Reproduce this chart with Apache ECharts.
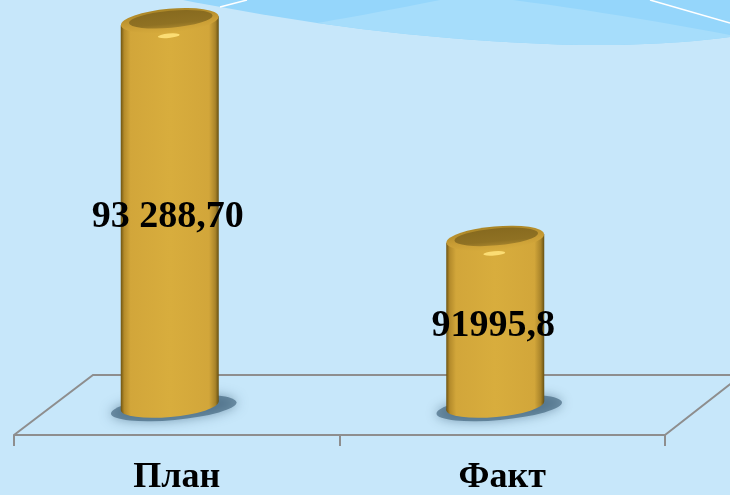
<!DOCTYPE html>
<html>
<head>
<meta charset="utf-8">
<script src="https://cdn.jsdelivr.net/npm/echarts@6/dist/echarts.min.js"></script>
<style>
html,body{margin:0;padding:0;background:#C7E7FA;}
#chart{width:730px;height:495px;}
</style>
</head>
<body>
<div id="chart"></div>
<script>
const categories = ['План', 'Факт'];
const values = [93288.7, 91995.8];
const valueLabels = ['93 288,70', '91995,8'];
const axisMin = 91000;
const axisMax = 93400;

const chart = echarts.init(document.getElementById('chart'), null, {renderer: 'canvas'});

const SERIF = "'Liberation Serif', 'Times New Roman', serif";

const bodyGrad = () => new echarts.graphic.LinearGradient(0, 0, 1, 0, [
  {offset: 0, color: '#6e5412'},
  {offset: 0.035, color: '#b48b2b'},
  {offset: 0.1, color: '#d2a63a'},
  {offset: 0.5, color: '#d8ad3d'},
  {offset: 0.9, color: '#d2a63a'},
  {offset: 0.965, color: '#a9842a'},
  {offset: 1, color: '#665012'}
]);

// ellipse built from a circle scaled vertically, inside a rotated group
function ellipse(x, y, rx, ry, rot, style) {
  return {
    type: 'group', x: x, y: y, rotation: rot,
    children: [{
      type: 'circle',
      shape: {cx: 0, cy: 0, r: rx},
      scaleY: ry / rx,
      style: style
    }]
  };
}

function renderItem(params, api) {
  const idx = api.value(0);
  const top = api.coord([idx, api.value(1)]);
  const base = api.coord([idx, axisMin]);
  const cx = top[0] - 7;
  const ty = top[1];
  const by = base[1];
  const rx = 49;
  const tilt = 0.09;
  const d = rx * Math.sin(tilt);
  const label = valueLabels[params.dataIndex];
  return {
    type: 'group',
    children: [
      ellipse(cx + 4, by + 2, 63, 12, tilt,
        {fill: 'rgba(55,90,115,0.6)', shadowBlur: 12, shadowColor: 'rgba(50,85,110,0.85)'}),
      ellipse(cx, by, rx, 11, tilt, {fill: bodyGrad()}),
      {
        type: 'polygon',
        shape: {points: [[cx - rx, ty + d], [cx + rx, ty - d], [cx + rx, by - d], [cx - rx, by + d]]},
        style: {fill: bodyGrad()}
      },
      ellipse(cx, ty, rx, 12, tilt, {fill: new echarts.graphic.LinearGradient(0, 0, 0, 1, [
        {offset: 0, color: '#a98526'},
        {offset: 0.6, color: '#c99d35'},
        {offset: 1, color: '#d6ab3c'}
      ])}),
      ellipse(cx + 1, ty - 1.5, 42, 8.5, tilt, {fill: new echarts.graphic.LinearGradient(0, 0, 0, 1, [
        {offset: 0, color: '#876a1f'},
        {offset: 0.75, color: '#8f7123'},
        {offset: 1, color: '#a4822b'}
      ])}),
      ellipse(cx - 1, ty + 15, 11, 2.2, tilt, {fill: '#ffe27a', opacity: 0.9}),
      {
        type: 'text',
        x: cx - 2,
        y: (ty + by) / 2 + 4,
        style: {
          text: label,
          fill: '#000',
          font: 'bold 38px ' + SERIF,
          textAlign: 'center',
          textVerticalAlign: 'middle'
        }
      }
    ]
  };
}

// sample a chain of quadratic curves into polygon points (background decoration)
function quadChain(start, segs) {
  const pts = [start];
  let p0 = start;
  segs.forEach(function (s) {
    const c = s[0], p1 = s[1];
    for (let t = 1; t <= 12; t++) {
      const u = t / 12;
      pts.push([
        (1 - u) * (1 - u) * p0[0] + 2 * (1 - u) * u * c[0] + u * u * p1[0],
        (1 - u) * (1 - u) * p0[1] + 2 * (1 - u) * u * c[1] + u * u * p1[1]
      ]);
    }
    p0 = p1;
  });
  return pts;
}

const lowerCurve = quadChain([183, 0], [[[250, 13], [317, 23]], [[450, 42], [580, 45]], [[660, 46], [730, 37]]]);
const wavePts = lowerCurve.concat([[730, 0]]);
const lowerFrom317 = quadChain([317, 23], [[[450, 42], [580, 45]], [[660, 46], [730, 37]]]);
const wedgeTop = quadChain([317, 23], [[[370, 14], [440, 0]]]).concat([[513, 0]])
  .concat(quadChain([513, 0], [[[620, 14], [730, 35]]]).slice(1));
const wedgePts = wedgeTop.concat(lowerFrom317.slice().reverse());

const floorColor = '#8e8e8e';

chart.setOption({
  backgroundColor: '#C7E7FA',
  animation: false,
  grid: {left: 14, right: 65, top: 2, bottom: 89, containLabel: false, outerBoundsMode: 'none'},
  xAxis: {
    type: 'category',
    data: categories,
    offset: 29,
    axisLine: {show: true, lineStyle: {color: floorColor, width: 2}},
    axisTick: {show: true, interval: 0, alignWithLabel: false, inside: false, length: 11, lineStyle: {color: floorColor, width: 2}},
    axisLabel: {
      color: '#000', fontFamily: SERIF, fontWeight: 'bold', fontSize: 36, margin: 25
    },
    splitLine: {show: false}
  },
  yAxis: {
    type: 'value', min: axisMin, max: axisMax, show: false
  },
  graphic: [
    {type: 'polygon', z: 1, shape: {points: wavePts}, style: {fill: '#95D6FB'}},
    {type: 'polygon', z: 1, shape: {points: wedgePts}, style: {fill: '#A6DDFB'}},
    {type: 'line', z: 1, shape: {x1: 220, y1: 7, x2: 247, y2: 0}, style: {stroke: '#ffffff', lineWidth: 1.5}},
    {type: 'line', z: 1, shape: {x1: 650, y1: 0, x2: 730, y2: 23}, style: {stroke: '#ffffff', lineWidth: 1.5}},
    {
      type: 'polyline', z: 1,
      shape: {points: [[14, 435], [93, 375], [742, 375], [665, 435]]},
      style: {stroke: floorColor, lineWidth: 2, fill: null}
    }
  ],
  series: [{
    type: 'custom',
    z: 10,
    clip: false,
    renderItem: renderItem,
    encode: {x: 0, y: 1},
    data: categories.map((c, i) => [i, values[i]])
  }]
});
</script>
</body>
</html>
